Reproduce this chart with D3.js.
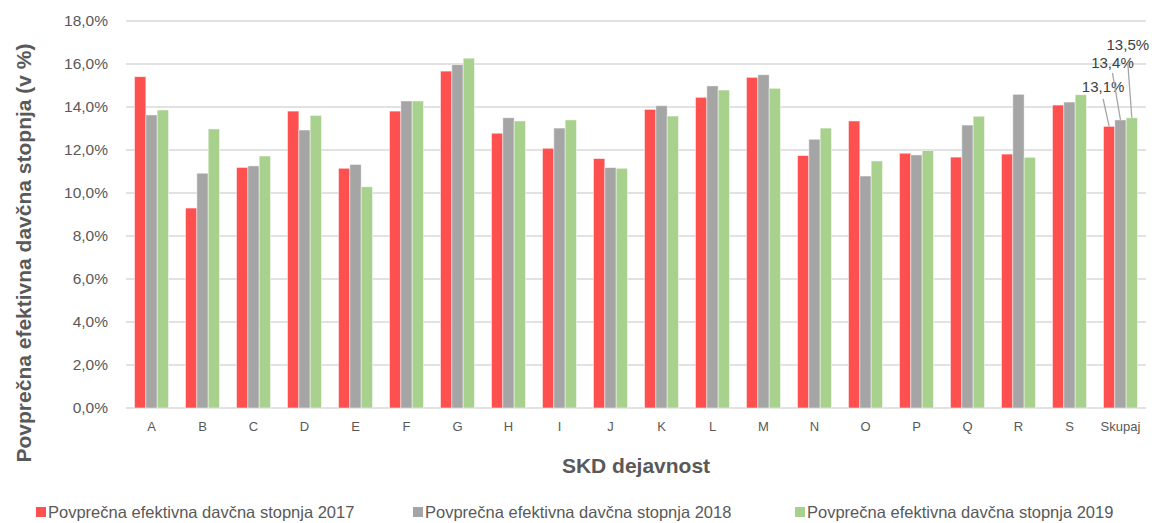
<!DOCTYPE html>
<html>
<head>
<meta charset="utf-8">
<script src="https://cdn.jsdelivr.net/npm/d3@7"></script>
<style>
  body { margin: 0; background: #fff; }
  svg { display: block; font-family: "Liberation Sans", Arial, sans-serif; }
</style>
</head>
<body>
<svg id="chart"></svg>
<script>
// categories and series (values in %)
const categories = ['A', 'B', 'C', 'D', 'E', 'F', 'G', 'H', 'I', 'J', 'K', 'L', 'M', 'N', 'O', 'P', 'Q', 'R', 'S', 'Skupaj'];
const series2017 = [15.41, 9.30, 11.19, 13.81, 11.15, 13.81, 15.67, 12.78, 12.08, 11.60, 13.89, 14.45, 15.38, 11.74, 13.35, 11.85, 11.67, 11.81, 14.09, 13.1];
const series2018 = [13.63, 10.92, 11.26, 12.93, 11.33, 14.28, 15.97, 13.50, 13.02, 11.18, 14.06, 14.98, 15.50, 12.50, 10.79, 11.77, 13.16, 14.59, 14.23, 13.4];
const series2019 = [13.86, 12.98, 11.72, 13.61, 10.29, 14.28, 16.27, 13.35, 13.40, 11.15, 13.58, 14.79, 14.87, 13.02, 11.49, 11.98, 13.57, 11.66, 14.57, 13.5];
const seriesNames = [
  'Povprečna efektivna davčna stopnja 2017',
  'Povprečna efektivna davčna stopnja 2018',
  'Povprečna efektivna davčna stopnja 2019'
];
const yTicks = [0, 2, 4, 6, 8, 10, 12, 14, 16, 18];
const colors = ['#FF5050', '#A5A5A5', '#A9D18E'];

const width = 1152, height = 523;
const margin = { top: 21, right: 6, bottom: 115, left: 126 };
const innerW = width - margin.left - margin.right;
const innerH = height - margin.top - margin.bottom;

const svg = d3.select('#chart').attr('width', width).attr('height', height);
const g = svg.append('g').attr('transform', `translate(${margin.left},${margin.top})`);

const fmt = v => v.toFixed(1).replace('.', ',') + '%';

const x = d3.scaleBand().domain(categories).range([0, innerW]).paddingInner(0.333).paddingOuter(0.167);
const xs = d3.scaleBand().domain([0, 1, 2]).range([0, x.bandwidth()]);
const y = d3.scaleLinear().domain([0, 18]).range([innerH, 0]);

// gridlines
g.append('g')
  .selectAll('line')
  .data(yTicks)
  .join('line')
  .attr('x1', 0).attr('x2', innerW)
  .attr('y1', d => y(d)).attr('y2', d => y(d))
  .attr('stroke', '#D9D9D9')
  .attr('stroke-width', 1.3);

// y axis labels
const yAxis = g.append('g')
  .call(d3.axisLeft(y).tickValues(yTicks).tickFormat(fmt).tickSize(0).tickPadding(18));
yAxis.select('.domain').remove();
yAxis.selectAll('text').attr('font-size', '15.5px').attr('fill', '#595959');

// x axis labels
const xAxis = g.append('g')
  .attr('transform', `translate(0,${innerH})`)
  .call(d3.axisBottom(x).tickSize(0).tickPadding(14));
xAxis.select('.domain').remove();
xAxis.selectAll('text').attr('font-size', '13px').attr('fill', '#595959');

// bars
const allSeries = [series2017, series2018, series2019];
allSeries.forEach((vals, si) => {
  g.append('g')
    .selectAll('rect')
    .data(vals)
    .join('rect')
    .attr('x', (d, i) => x(categories[i]) + xs(si))
    .attr('y', d => y(d))
    .attr('width', xs.bandwidth())
    .attr('height', d => innerH - y(d))
    .attr('fill', colors[si])
    .attr('stroke', '#fff')
    .attr('stroke-opacity', 0.6)
    .attr('stroke-width', 0.8);
});

// data labels for Skupaj with leader lines
const last = categories.length - 1;
const labelPos = [
  { dx: -6, ty: 92, lx: -6, ly: 99 },
  { dx: -8, ty: 68, lx: -8, ly: 73 },
  { dx: -4, ty: 50, lx: -4, ly: 63 }
];
allSeries.forEach((vals, si) => {
  const v = vals[last];
  const cx = x(categories[last]) + xs(si) + xs.bandwidth() / 2;
  const p = labelPos[si];
  g.append('line')
    .attr('x1', cx + p.lx).attr('y1', p.ly - margin.top)
    .attr('x2', cx).attr('y2', y(v))
    .attr('stroke', '#A5A5A5')
    .attr('stroke-width', 1.3);
  g.append('text')
    .attr('x', cx + p.dx)
    .attr('y', p.ty - margin.top)
    .attr('text-anchor', 'middle')
    .attr('font-size', '15px')
    .attr('fill', '#404040')
    .text(fmt(v));
});

// axis titles
svg.append('text')
  .attr('transform', `translate(31,${253}) rotate(-90)`)
  .attr('text-anchor', 'middle')
  .attr('font-size', '21px')
  .attr('font-weight', 'bold')
  .attr('fill', '#595959')
  .text('Povprečna efektivna davčna stopnja (v %)');

svg.append('text')
  .attr('x', margin.left + innerW / 2)
  .attr('y', 473)
  .attr('text-anchor', 'middle')
  .attr('font-size', '21px')
  .attr('font-weight', 'bold')
  .attr('fill', '#595959')
  .text('SKD dejavnost');

// legend
const legendX = [36, 413, 795];
const legend = svg.append('g');
seriesNames.forEach((name, i) => {
  legend.append('rect')
    .attr('x', legendX[i]).attr('y', 507)
    .attr('width', 10).attr('height', 10)
    .attr('fill', colors[i]);
  legend.append('text')
    .attr('x', legendX[i] + 12).attr('y', 518)
    .attr('font-size', '16.5px')
    .attr('fill', '#595959')
    .text(name);
});
</script>
</body>
</html>
